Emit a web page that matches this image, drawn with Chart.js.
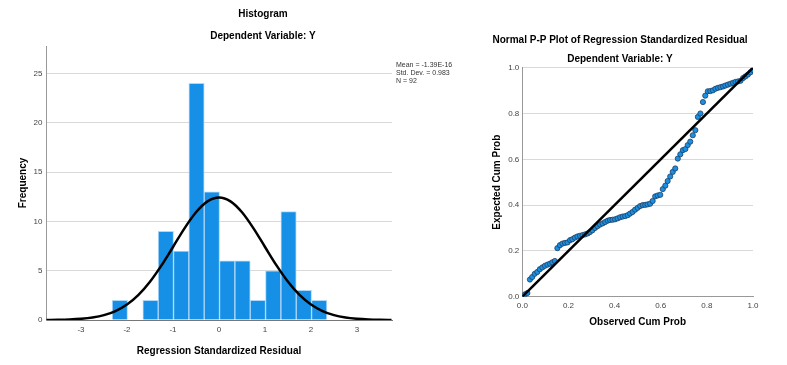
<!DOCTYPE html>
<html>
<head>
<meta charset="utf-8">
<script src="https://cdn.jsdelivr.net/npm/chart.js@4.4.0/dist/chart.umd.min.js"></script>
<style>
  body { margin: 0; background: #fff; width: 787px; height: 365px; overflow: hidden; position: relative; }
  canvas { position: absolute; top: 0; }
  #histChart { left: 0; }
  #ppChart { left: 480px; }
</style>
</head>
<body>
<canvas id="histChart" width="526" height="365"></canvas>
<canvas id="ppChart" width="283" height="365"></canvas>
<script>
// histogram bins (centres) and frequencies
const binCenters = [-2.155, -1.822, -1.488, -1.155, -0.822, -0.488, -0.155, 0.178, 0.512, 0.845, 1.178, 1.512, 1.845, 2.178];
const binCounts = [2, 0, 2, 9, 7, 24, 13, 6, 6, 2, 5, 11, 3, 2];

// normal curve
const curveX = [-3.75, -3.5, -3.25, -3, -2.75, -2.5, -2.25, -2, -1.75, -1.5, -1.25, -1, -0.75, -0.5, -0.25, 0,
                0.25, 0.5, 0.75, 1, 1.25, 1.5, 1.75, 2, 2.25, 2.5, 2.75, 3, 3.25, 3.5, 3.75];
const curveY = [0.01, 0.02, 0.05, 0.12, 0.25, 0.49, 0.91, 1.57, 2.55, 3.88, 5.54, 7.41, 9.30, 10.93, 12.04, 12.44,
                12.04, 10.93, 9.30, 7.41, 5.54, 3.88, 2.55, 1.57, 0.91, 0.49, 0.25, 0.12, 0.05, 0.02, 0.01];

const statsLines = ['Mean = -1.39E-16', 'Std. Dev. = 0.983', 'N = 92'];

// P-P plot
const observedCum = [0.011, 0.022, 0.033, 0.043, 0.054, 0.065, 0.076, 0.087, 0.098, 0.109, 0.120, 0.130, 0.141, 0.152,
  0.163, 0.174, 0.185, 0.196, 0.207, 0.217, 0.228, 0.239, 0.250, 0.261, 0.272, 0.283, 0.293, 0.304, 0.315, 0.326,
  0.337, 0.348, 0.359, 0.370, 0.380, 0.391, 0.402, 0.413, 0.424, 0.435, 0.446, 0.457, 0.467, 0.478, 0.489, 0.500,
  0.511, 0.522, 0.533, 0.543, 0.554, 0.565, 0.576, 0.587, 0.598, 0.609, 0.620, 0.630, 0.641, 0.652, 0.663, 0.674,
  0.685, 0.696, 0.707, 0.717, 0.728, 0.739, 0.750, 0.761, 0.772, 0.783, 0.793, 0.804, 0.815, 0.826, 0.837, 0.848,
  0.859, 0.870, 0.880, 0.891, 0.902, 0.913, 0.924, 0.935, 0.946, 0.957, 0.967, 0.978, 0.989, 1.000];
const expectedCum = [0.010, 0.016, 0.075, 0.086, 0.100, 0.108, 0.120, 0.128, 0.135, 0.140, 0.144, 0.150, 0.156, 0.212,
  0.225, 0.232, 0.235, 0.237, 0.247, 0.251, 0.258, 0.263, 0.266, 0.269, 0.272, 0.276, 0.282, 0.290, 0.300, 0.308,
  0.315, 0.320, 0.326, 0.332, 0.335, 0.336, 0.338, 0.342, 0.347, 0.350, 0.352, 0.356, 0.363, 0.370, 0.380, 0.388,
  0.396, 0.400, 0.401, 0.403, 0.406, 0.418, 0.438, 0.442, 0.445, 0.470, 0.485, 0.505, 0.525, 0.545, 0.560, 0.603,
  0.622, 0.640, 0.645, 0.662, 0.677, 0.705, 0.727, 0.785, 0.800, 0.850, 0.878, 0.897, 0.898, 0.901, 0.908, 0.912,
  0.915, 0.918, 0.922, 0.926, 0.930, 0.934, 0.938, 0.940, 0.943, 0.955, 0.962, 0.970, 0.980, 0.990];

const FONT = "'Liberation Sans', Arial, sans-serif";
Chart.defaults.font.family = FONT;
Chart.defaults.color = '#444';

const titleFont = { size: 10, weight: 'bold' };
const tickFont = { size: 8 };

// draws the Mean / Std. Dev. / N box to the right of the histogram
const statsPlugin = {
  id: 'stats',
  afterDraw(chart) {
    const ctx = chart.ctx;
    ctx.save();
    ctx.font = '7px ' + FONT;
    ctx.fillStyle = '#333';
    ctx.textBaseline = 'middle';
    statsLines.forEach((t, i) => ctx.fillText(t, chart.chartArea.right + 4, 65 + i * 8));
    ctx.restore();
  }
};

new Chart(document.getElementById('histChart'), {
  type: 'bar',
  data: {
    datasets: [{
      type: 'line',
      data: curveX.map((x, i) => ({ x: x, y: curveY[i] })),
      borderColor: '#000',
      borderWidth: 2.5,
      pointRadius: 0,
      cubicInterpolationMode: 'monotone',
      order: 0
    }, {
      data: binCenters.map((x, i) => ({ x: x, y: binCounts[i] })),
      backgroundColor: '#1590e6',
      borderColor: 'rgba(175, 215, 248, 1)',
      borderWidth: 1,
      barPercentage: 1,
      categoryPercentage: 1,
      order: 1
    }]
  },
  options: {
    responsive: false,
    animation: false,
    layout: { padding: { left: 0, right: 0, top: 0, bottom: 5 } },
    plugins: {
      legend: { display: false },
      tooltip: { enabled: false },
      title: { display: true, text: 'Histogram', color: '#000', font: titleFont, padding: { top: 8, bottom: 0 } },
      subtitle: { display: true, text: 'Dependent Variable: Y', color: '#000', font: titleFont, padding: { top: 10, bottom: 4 } }
    },
    scales: {
      x: {
        type: 'linear',
        offset: false,
        min: -3.76,
        max: 3.76,
        ticks: { stepSize: 1, padding: 5, font: tickFont, autoSkip: false, maxRotation: 0, includeBounds: false },
        grid: { display: false, drawTicks: false },
        border: { color: '#777' },
        title: { display: true, text: 'Regression Standardized Residual', color: '#000', font: titleFont, padding: { top: 0, bottom: 3 } },
        afterFit: s => { s.height = 40; }
      },
      y: {
        min: 0,
        max: 27.8,
        ticks: { stepSize: 5, padding: 3.5, font: tickFont, includeBounds: false },
        grid: { color: '#d9d9d9', drawTicks: false },
        border: { color: '#999' },
        title: { display: true, text: 'Frequency', color: '#000', font: titleFont, padding: { top: 17, bottom: 0 } },
        afterFit: s => { s.width = 46; }
      },
      side: {
        position: 'right',
        ticks: { display: false },
        grid: { display: false },
        border: { display: false },
        afterFit: s => { s.width = 134; }
      }
    }
  },
  plugins: [statsPlugin]
});

new Chart(document.getElementById('ppChart'), {
  type: 'scatter',
  data: {
    datasets: [{
      type: 'line',
      data: [{ x: 0, y: 0 }, { x: 1, y: 1 }],
      borderColor: '#000',
      borderWidth: 2.5,
      pointRadius: 0,
      order: 0
    }, {
      data: observedCum.map((x, i) => ({ x: x, y: expectedCum[i] })),
      backgroundColor: '#1b8fe0',
      borderColor: '#1d3f66',
      borderWidth: 0.8,
      pointRadius: 2.6,
      order: 1
    }]
  },
  options: {
    responsive: false,
    animation: false,
    layout: { padding: { left: 7, right: 10, top: 0, bottom: 34.3 } },
    plugins: {
      legend: { display: false },
      tooltip: { enabled: false },
      title: { display: true, text: 'Normal P-P Plot of Regression Standardized Residual', color: '#000', font: titleFont, padding: { top: 34, bottom: 0 } },
      subtitle: { display: true, text: 'Dependent Variable: Y', color: '#000', font: titleFont, padding: { top: 7, bottom: 2.7 } }
    },
    scales: {
      x: {
        min: 0,
        max: 1,
        ticks: { stepSize: 0.2, padding: 4, font: tickFont, callback: v => v.toFixed(1) },
        grid: { display: false, drawTicks: false },
        border: { color: '#999' },
        title: { display: true, text: 'Observed Cum Prob', color: '#000', font: titleFont, padding: { top: 0, bottom: 2 } },
        afterFit: s => { s.height = 34; }
      },
      y: {
        min: 0,
        max: 1,
        ticks: { stepSize: 0.2, padding: 3, font: tickFont, callback: v => v.toFixed(1) },
        grid: { color: '#d9d9d9', drawTicks: false },
        border: { color: '#999' },
        title: { display: true, text: 'Expected Cum Prob', color: '#000', font: titleFont, padding: { top: 4, bottom: 0 } },
        afterFit: s => { s.width = 35.3; }
      }
    }
  }
});
</script>
</body>
</html>
